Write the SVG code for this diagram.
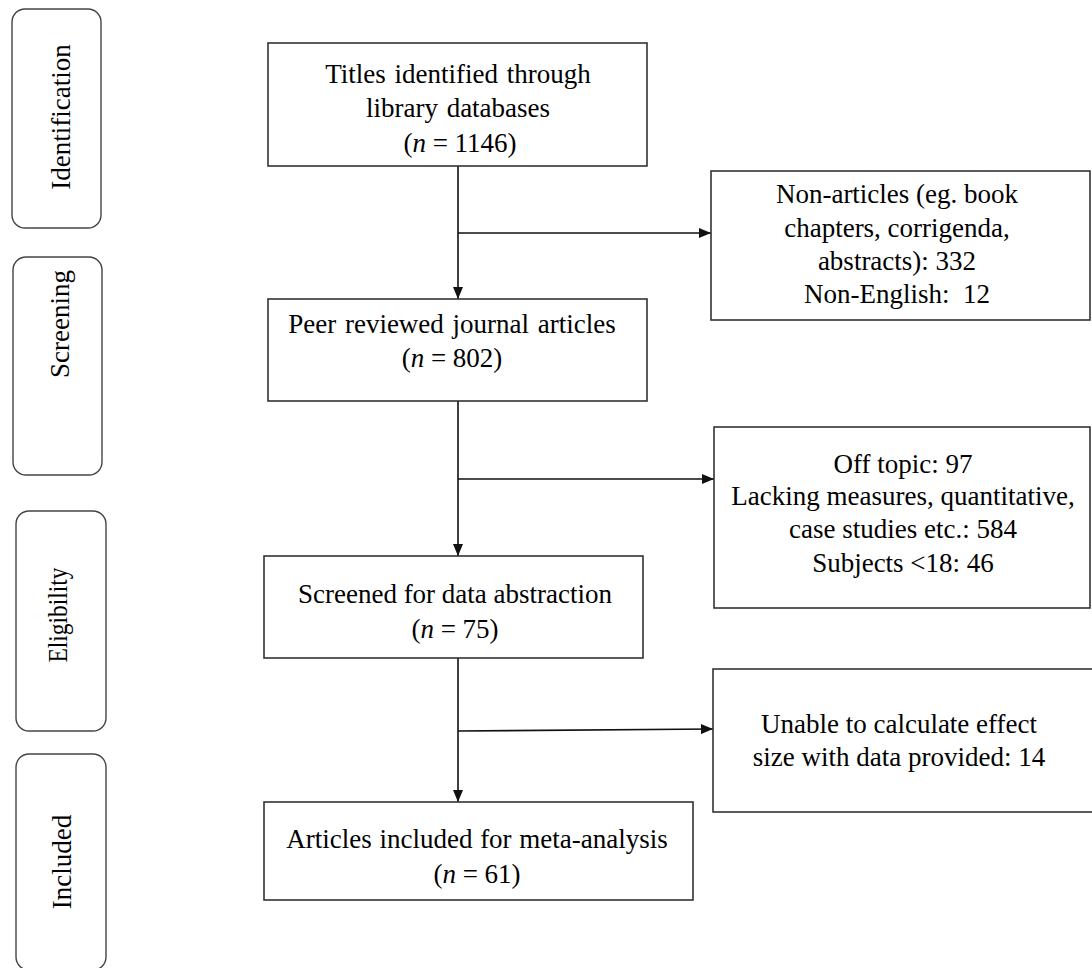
<svg xmlns="http://www.w3.org/2000/svg" width="1092" height="968" viewBox="0 0 1092 968">
<style>
.box{fill:#fff;stroke:#333;stroke-width:1.6}
.stage{fill:#fff;stroke:#444;stroke-width:1.4}
.t{font-family:"Liberation Serif","Times New Roman",serif;font-size:27px;fill:#000;text-anchor:middle}
.ln{stroke:#111;stroke-width:1.6;fill:none}
</style>
<defs>
<marker id="ah" viewBox="0 0 12 10" refX="12" refY="5" markerWidth="12" markerHeight="10" markerUnits="userSpaceOnUse" orient="auto">
<path d="M0,0 L12,5 L0,10 Z" fill="#111"/>
</marker>
</defs>
<rect width="1092" height="968" fill="#fff"/>
<g id="stage-identification">
<rect class="stage" x="12" y="9" width="89" height="219" rx="13"/>
<text class="t" transform="translate(70,117) rotate(-90)">Identification</text>
</g>
<g id="stage-screening">
<rect class="stage" x="13" y="257" width="89" height="218" rx="13"/>
<text class="t" transform="translate(69,324) rotate(-90)">Screening</text>
</g>
<g id="stage-eligibility">
<rect class="stage" x="16" y="511" width="90" height="220" rx="13"/>
<text class="t" transform="translate(67,615) rotate(-90)" textLength="95" lengthAdjust="spacingAndGlyphs">Eligibility</text>
</g>
<g id="stage-included">
<rect class="stage" x="16" y="754" width="90" height="216" rx="13"/>
<text class="t" transform="translate(71,862) rotate(-90)">Included</text>
</g>
<g id="connectors">
<line class="ln" x1="458" y1="166" x2="458" y2="299" marker-end="url(#ah)"/>
<line class="ln" x1="458" y1="233" x2="711" y2="233" marker-end="url(#ah)"/>
<line class="ln" x1="458" y1="401" x2="458" y2="556" marker-end="url(#ah)"/>
<line class="ln" x1="458" y1="479" x2="714" y2="479" marker-end="url(#ah)"/>
<line class="ln" x1="458" y1="658" x2="458" y2="802" marker-end="url(#ah)"/>
<line class="ln" x1="458" y1="731" x2="713" y2="729" marker-end="url(#ah)"/>
</g>
<g id="node-titles">
<rect class="box" x="268" y="43" width="379" height="123"/>
<text class="t" x="458" y="83" word-spacing="2">Titles identified through</text>
<text class="t" x="458" y="117" word-spacing="2">library databases</text>
<text class="t" x="460" y="152">(<tspan font-style="italic">n</tspan> = 1146)</text>
</g>
<g id="node-peer">
<rect class="box" x="268" y="299" width="379" height="102"/>
<text class="t" x="452" y="333" word-spacing="2">Peer reviewed journal articles</text>
<text class="t" x="452" y="367">(<tspan font-style="italic">n</tspan> = 802)</text>
</g>
<g id="node-screened">
<rect class="box" x="264" y="556" width="379" height="102"/>
<text class="t" x="455" y="603">Screened for data abstraction</text>
<text class="t" x="455" y="638">(<tspan font-style="italic">n</tspan> = 75)</text>
</g>
<g id="node-included">
<rect class="box" x="264" y="802" width="429" height="98"/>
<text class="t" x="477" y="848" word-spacing="1">Articles included for meta-analysis</text>
<text class="t" x="477" y="883">(<tspan font-style="italic">n</tspan> = 61)</text>
</g>
<g id="node-excl1">
<rect class="box" x="711" y="171" width="379" height="149"/>
<text class="t" x="897" y="203">Non-articles (eg. book</text>
<text class="t" x="897" y="237">chapters, corrigenda,</text>
<text class="t" x="897" y="270">abstracts): 332</text>
<text class="t" x="897" y="303" xml:space="preserve">Non-English:  12</text>
</g>
<g id="node-excl2">
<rect class="box" x="714" y="427" width="376" height="181"/>
<text class="t" x="903" y="473">Off topic: 97</text>
<text class="t" x="903" y="505">Lacking measures, quantitative,</text>
<text class="t" x="903" y="538">case studies etc.: 584</text>
<text class="t" x="903" y="572">Subjects &lt;18: 46</text>
</g>
<g id="node-excl3">
<rect class="box" x="713" y="669" width="380" height="143"/>
<text class="t" x="899" y="733">Unable to calculate effect</text>
<text class="t" x="899" y="766">size with data provided: 14</text>
</g>
</svg>
